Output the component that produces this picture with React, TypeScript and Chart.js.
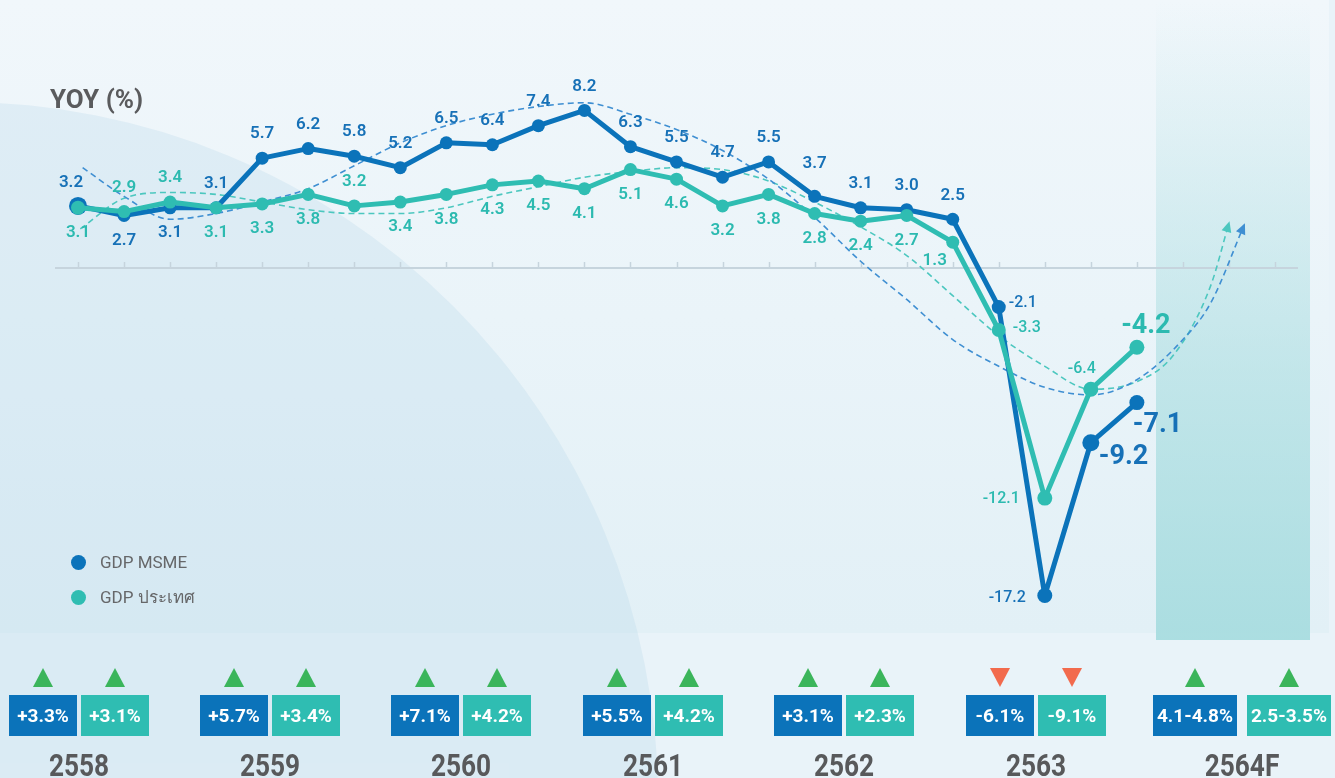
import React, { useEffect, useRef } from "react";
import { Chart, registerables } from "chart.js";

Chart.register(...registerables);

// ---------- DATA ----------
const quarters = [
  "Q1/58", "Q2/58", "Q3/58", "Q4/58",
  "Q1/59", "Q2/59", "Q3/59", "Q4/59",
  "Q1/60", "Q2/60", "Q3/60", "Q4/60",
  "Q1/61", "Q2/61", "Q3/61", "Q4/61",
  "Q1/62", "Q2/62", "Q3/62", "Q4/62",
  "Q1/63", "Q2/63", "Q3/63", "Q4/63",
];
const msmeYoY = [3.2, 2.7, 3.1, 3.1, 5.7, 6.2, 5.8, 5.2, 6.5, 6.4, 7.4, 8.2, 6.3, 5.5, 4.7, 5.5, 3.7, 3.1, 3.0, 2.5, -2.1, -17.2, -9.2, -7.1];
const gdpYoY = [3.1, 2.9, 3.4, 3.1, 3.3, 3.8, 3.2, 3.4, 3.8, 4.3, 4.5, 4.1, 5.1, 4.6, 3.2, 3.8, 2.8, 2.4, 2.7, 1.3, -3.3, -12.1, -6.4, -4.2];

// dashed trend curves (x = quarter index, fractional allowed)
const msmeTrendX = [0.1, 1, 2, 3, 4, 5, 6, 7, 8, 9, 10, 11, 12, 13, 14, 15, 16, 17, 18, 19, 20, 21, 22, 23, 24, 24.6, 25.33];
const msmeTrendY = [5.2, 3.7, 2.5, 2.8, 3.4, 4.1, 5.3, 6.5, 7.4, 8.0, 8.4, 8.6, 8.0, 7.2, 6.1, 4.6, 2.6, 0.3, -1.7, -3.8, -5.2, -6.3, -6.7, -5.9, -3.8, -1.9, 2.2];
const gdpTrendX = [0.05, 1, 2, 3, 4, 5, 6, 7, 8, 9, 10, 11, 12, 13, 14, 15, 16, 17, 18, 19, 20, 21, 22, 23, 23.8, 24.6, 25.0];
const gdpTrendY = [2.0, 3.6, 3.9, 3.8, 3.4, 3.0, 2.8, 2.8, 3.1, 3.7, 4.2, 4.7, 5.0, 5.2, 5.1, 4.5, 3.4, 2.1, 0.6, -1.5, -3.6, -5.2, -6.4, -6.0, -4.6, -1.0, 2.3];

// annual summary
const years = ["2558", "2559", "2560", "2561", "2562", "2563", "2564F"];
const msmeAnnual = ["+3.3%", "+5.7%", "+7.1%", "+5.5%", "+3.1%", "-6.1%", "4.1-4.8%"];
const gdpAnnual = ["+3.1%", "+3.4%", "+4.2%", "+4.2%", "+2.3%", "-9.1%", "2.5-3.5%"];
const annualUp = [true, true, true, true, true, false, true];

const seriesNames = ["GDP MSME", "GDP ประเทศ"];
const axisTitle = "YOY (%)";

// ---------- STYLE ----------
const BLUE = "#0b73ba";
const TEAL = "#2fbdb2";
const BLUE_DASH = "#3f8fd2";
const TEAL_DASH = "#4cc7bf";
const FONT = "Roboto, 'Noto Sans', 'DejaVu Sans', sans-serif";

const msmeRadius = [9, 6.5, 6.5, 6.5, 6.5, 6.5, 6.5, 6.5, 6.5, 6.5, 6.5, 6.5, 6.5, 6.5, 6.5, 6.5, 6.5, 6.5, 6.5, 6.5, 7, 7.5, 8.5, 7.5];
const gdpRadius = [7, 6.5, 6.5, 6.5, 6.5, 6.5, 6.5, 6.5, 6.5, 6.5, 6.5, 6.5, 6.5, 6.5, 6.5, 6.5, 6.5, 6.5, 6.5, 6.5, 7, 7.5, 7.5, 7.5];

type Place = { dx: number; dy: number; align: CanvasTextAlign; size: number; weight: number };
const PLACES: Record<string, Place> = {
  T: { dx: 0, dy: -24, align: "center", size: 17, weight: 600 },
  TH: { dx: 0, dy: -33, align: "center", size: 17, weight: 600 },
  B: { dx: 0, dy: 25, align: "center", size: 17, weight: 600 },
  TL: { dx: -7, dy: -23, align: "center", size: 17, weight: 600 },
  BL: { dx: -18, dy: 19, align: "center", size: 17, weight: 600 },
  R1: { dx: 10, dy: -4, align: "left", size: 16, weight: 500 },
  R2: { dx: 14, dy: -2, align: "left", size: 16, weight: 500 },
  L1: { dx: -19, dy: 2, align: "right", size: 16, weight: 500 },
  L2: { dx: -25, dy: 1, align: "right", size: 16, weight: 500 },
  TLS: { dx: -9, dy: -20, align: "center", size: 16, weight: 500 },
  BIG1: { dx: 8, dy: 15, align: "left", size: 27, weight: 700 },
  BIG2: { dx: -4, dy: 23, align: "left", size: 27, weight: 700 },
  BIGT: { dx: 9, dy: -21, align: "center", size: 27, weight: 700 },
};
const msmePlace = ["TL", "B", "B", "T", "T", "T", "T", "T", "T", "T", "T", "T", "T", "T", "T", "T", "TH", "T", "T", "T", "R1", "L1", "BIG1", "BIG2"];
const gdpPlace = ["B", "T", "T", "B", "B", "B", "T", "B", "B", "B", "B", "B", "B", "B", "B", "B", "B", "B", "B", "BL", "R2", "L2", "TLS", "BIGT"];

const labelSets = [
  { ds: 0, texts: gdpYoY.map((v) => v.toFixed(1)), places: gdpPlace, color: "#2cbab0" },
  { ds: 1, texts: msmeYoY.map((v) => v.toFixed(1)), places: msmePlace, color: "#1771b7" },
];

const axisPlugin = {
  id: "zeroAxis",
  beforeDatasetsDraw(chart: any) {
    const { ctx, chartArea, scales } = chart;
    const y = Math.round(scales.y.getPixelForValue(0)) + 1;
    ctx.save();
    ctx.strokeStyle = "#c6d4dd";
    ctx.lineWidth = 2;
    ctx.beginPath();
    ctx.moveTo(chartArea.left, y);
    ctx.lineTo(chartArea.right, y);
    ctx.stroke();
    ctx.lineWidth = 1.5;
    for (let i = 0; i <= 26; i++) {
      const x = Math.round(scales.x.getPixelForValue(i)) + 0.5;
      ctx.beginPath();
      ctx.moveTo(x, y);
      ctx.lineTo(x, y - 6);
      ctx.stroke();
    }
    ctx.restore();
  },
};

const arrowPlugin = {
  id: "trendArrows",
  afterDatasetsDraw(chart: any) {
    const ctx = chart.ctx;
    [2, 3].forEach((di) => {
      const meta = chart.getDatasetMeta(di);
      const pts = meta.data;
      const a = pts[pts.length - 2];
      const b = pts[pts.length - 1];
      const ang = Math.atan2(b.y - a.y, b.x - a.x);
      const len = 11;
      const half = 5;
      ctx.save();
      ctx.translate(b.x, b.y);
      ctx.rotate(ang);
      ctx.fillStyle = chart.data.datasets[di].borderColor;
      ctx.beginPath();
      ctx.moveTo(2, 0);
      ctx.lineTo(2 - len, -half);
      ctx.lineTo(2 - len, half);
      ctx.closePath();
      ctx.fill();
      ctx.restore();
    });
  },
};

const labelPlugin = {
  id: "pointLabels",
  afterDatasetsDraw(chart: any) {
    const ctx = chart.ctx;
    labelSets.forEach((set) => {
      const meta = chart.getDatasetMeta(set.ds);
      meta.data.forEach((pt: any, i: number) => {
        const p = PLACES[set.places[i]];
        ctx.save();
        ctx.font = `${p.weight} ${p.size}px ${FONT}`;
        ctx.fillStyle = set.color;
        ctx.textAlign = p.align;
        ctx.textBaseline = "middle";
        ctx.fillText(set.texts[i], pt.x + p.dx, pt.y + p.dy);
        ctx.restore();
      });
    });
  },
};

export default function App() {
  const canvasRef = useRef<HTMLCanvasElement>(null);

  useEffect(() => {
    if (!canvasRef.current) return;
    const chart = new Chart(canvasRef.current, {
      type: "line",
      data: {
        labels: quarters,
        datasets: [
          {
            label: seriesNames[1],
            data: gdpYoY.map((v, i) => ({ x: i, y: v })),
            borderColor: TEAL,
            backgroundColor: TEAL,
            borderWidth: 5,
            borderJoinStyle: "round",
            pointRadius: gdpRadius,
            pointBackgroundColor: TEAL,
            pointBorderWidth: 0,
            tension: 0,
            fill: false,
          },
          {
            label: seriesNames[0],
            data: msmeYoY.map((v, i) => ({ x: i, y: v })),
            borderColor: BLUE,
            backgroundColor: BLUE,
            borderWidth: 5,
            borderJoinStyle: "round",
            pointRadius: msmeRadius,
            pointBackgroundColor: BLUE,
            pointBorderWidth: 0,
            tension: 0,
            fill: false,
          },
          {
            label: "trend MSME",
            data: msmeTrendX.map((x, i) => ({ x, y: msmeTrendY[i] })),
            borderColor: BLUE_DASH,
            borderWidth: 1.6,
            borderDash: [6, 4],
            pointRadius: 0,
            cubicInterpolationMode: "monotone",
            fill: false,
          },
          {
            label: "trend GDP",
            data: gdpTrendX.map((x, i) => ({ x, y: gdpTrendY[i] })),
            borderColor: TEAL_DASH,
            borderWidth: 1.6,
            borderDash: [6, 4],
            pointRadius: 0,
            cubicInterpolationMode: "monotone",
            fill: false,
          },
        ],
      },
      options: {
        responsive: false,
        animation: false,
        events: [],
        layout: { padding: { left: 55, right: 37, top: 76, bottom: 129 } },
        plugins: { legend: { display: false }, tooltip: { enabled: false } },
        scales: {
          x: { type: "linear", min: -0.5, max: 26.5, display: false },
          y: { type: "linear", min: -20, max: 10, display: false },
        },
      },
      plugins: [axisPlugin, arrowPlugin, labelPlugin],
    } as any);
    return () => chart.destroy();
  }, []);

  const groupLeft = [9, 200, 391, 583, 774, 966, 1153];

  return (
    <div
      style={{
        position: "fixed",
        left: 0,
        top: 0,
        width: 1335,
        height: 778,
        overflow: "hidden",
        background: "#e9f3f9",
        fontFamily: FONT,
      }}
    >
      <div
        style={{
          position: "absolute",
          left: 0,
          top: 0,
          width: 1329,
          height: 633,
          background: "linear-gradient(180deg, #f1f7fb 0%, #eaf4f9 50%, #e2f0f6 100%)",
        }}
      />
      <div
        style={{
          position: "absolute",
          left: -40 - 698,
          top: 800 - 698,
          width: 1396,
          height: 1396,
          borderRadius: "50%",
          background: "rgba(176,212,230,0.25)",
        }}
      />
      <div
        style={{
          position: "absolute",
          left: 1156,
          top: 0,
          width: 154,
          height: 640,
          background:
            "linear-gradient(180deg, rgba(166,220,223,0) 0%, rgba(166,220,223,0.25) 25%, rgba(166,220,223,0.6) 60%, rgba(166,220,223,0.92) 100%)",
        }}
      />
      <canvas
        ref={canvasRef}
        width={1335}
        height={778}
        style={{ position: "absolute", left: 0, top: 0, width: 1335, height: 778 }}
      />
      <div
        style={{
          position: "absolute",
          left: 50,
          top: 86,
          fontSize: 26,
          lineHeight: 1,
          fontWeight: 700,
          color: "#5a5b5d",
          whiteSpace: "nowrap",
        }}
      >
        {axisTitle}
      </div>
      {[BLUE, TEAL].map((c, i) => (
        <div
          key={i}
          style={{
            position: "absolute",
            left: 71,
            top: 554 + i * 35,
            height: 16,
            display: "flex",
            alignItems: "center",
            whiteSpace: "nowrap",
          }}
        >
          <div style={{ width: 15, height: 15, borderRadius: "50%", background: c }} />
          <div style={{ marginLeft: 14, fontSize: 17, lineHeight: 1, color: "#666769" }}>{seriesNames[i]}</div>
        </div>
      ))}
      {years.map((yr, i) => {
        const w = i === 6 ? 84 : 68;
        const gap = i === 6 ? 10 : 4;
        const left = groupLeft[i];
        const total = w * 2 + gap;
        const up = annualUp[i];
        const tri = (cx: number, k: string) => (
          <div
            key={k}
            style={{
              position: "absolute",
              left: cx - 10,
              top: 668,
              width: 0,
              height: 0,
              borderLeft: "10px solid transparent",
              borderRight: "10px solid transparent",
              ...(up
                ? { borderBottom: "19px solid #3bb55b" }
                : { borderTop: "19px solid #f26a4d" }),
            }}
          />
        );
        const box = (x: number, color: string, text: string, k: string) => (
          <div
            key={k}
            style={{
              position: "absolute",
              left: x,
              top: 695,
              width: w,
              height: 41,
              background: color,
              color: "#fff",
              fontSize: 19,
              fontWeight: 700,
              display: "flex",
              alignItems: "center",
              justifyContent: "center",
              whiteSpace: "nowrap",
            }}
          >
            {text}
          </div>
        );
        return (
          <React.Fragment key={yr}>
            {tri(left + w / 2, "t1")}
            {tri(left + w + gap + w / 2, "t2")}
            {box(left, BLUE, msmeAnnual[i], "b1")}
            {box(left + w + gap, TEAL, gdpAnnual[i], "b2")}
            <div
              style={{
                position: "absolute",
                left: left + total / 2 - 60,
                width: 120,
                top: 749,
                textAlign: "center",
                fontSize: 32,
                lineHeight: 1,
                fontWeight: 700,
                color: "#58595b",
                transform: "scaleX(0.82)",
              }}
            >
              {yr}
            </div>
          </React.Fragment>
        );
      })}
    </div>
  );
}
